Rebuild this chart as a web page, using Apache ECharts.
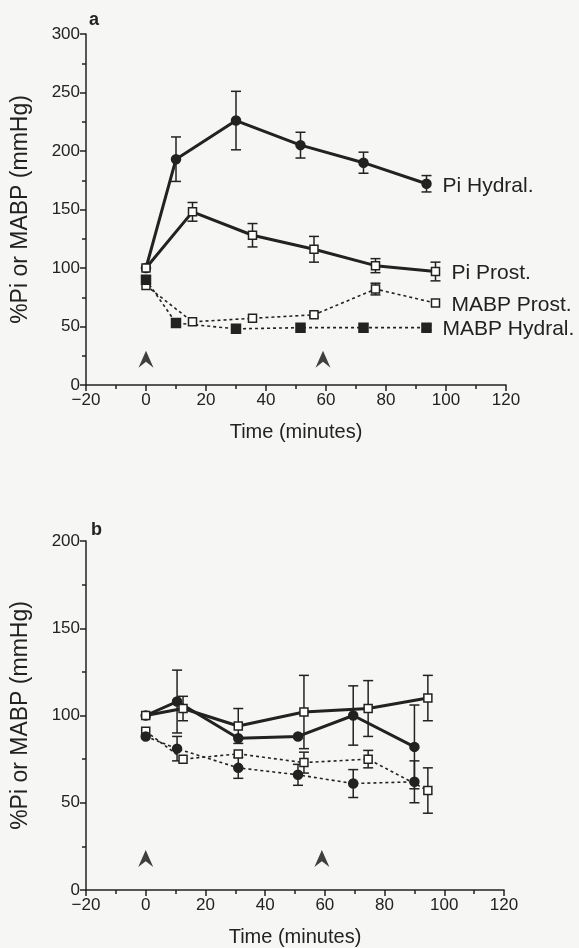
<!DOCTYPE html>
<html>
<head>
<meta charset="utf-8">
<script src="https://cdn.jsdelivr.net/npm/echarts@6/dist/echarts.min.js"></script>
<style>
  html, body { margin: 0; padding: 0; background: #f6f6f4; }
  #main { width: 579px; height: 948px; }
</style>
</head>
<body>
<div id="main"></div>
<script>
// panel a (minutes after injection)
var timeHydA = [0, 10, 30, 51.5, 72.5, 93.5];
var piHydA = [100, 193, 226, 205, 190, 172];
var piHydErrA = [0, 19, 25, 11, 9, 7];
var mabpHydA = [90, 53, 48, 49, 49, 49];
var mabpHydErrA = [0, 0, 0, 0, 0, 2];

var timeProA = [0, 15.5, 35.5, 56, 76.5, 96.5];
var piProA = [100, 148, 128, 116, 102, 97];
var piProErrA = [0, 8, 10, 11, 6, 8];
var mabpProA = [85, 54, 57, 60, 82, 70];
var mabpProErrA = [0, 0, 0, 2, 5, 0];

// panel b
var timeHydB = [0, 10.5, 31, 51, 69.5, 90];
var piHydB = [100, 108, 87, 88, 100, 82];
var piHydErrB = [0, 18, 0, 0, 17, 24];
var mabpHydB = [88, 81, 70, 66, 61, 62];
var mabpHydErrB = [0, 7, 6, 6, 8, 12];

var timeProB = [0, 12.5, 31, 53, 74.5, 94.5];
var piProB = [100, 104, 94, 102, 104, 110];
var piProErrB = [0, 7, 10, 21, 16, 13];
var mabpProB = [91, 75, 78, 73, 75, 57];
var mabpProErrB = [0, 0, 0, 6, 5, 13];

// injection markers
var arrowTimes = [0, 59];
var arrowLevelA = 22;
var arrowLevelB = 18;

var xMinorTicks = [-10, 10, 30, 50, 70, 90, 110];

var ink = '#222222';
var font = 'Liberation Sans';
var chevron = 'path://M0,20 L9,0 L18,20 L9,13 Z';

function pairs(t, v) {
    var out = [];
    for (var i = 0; i < t.length; i++) out.push([t[i], v[i]]);
    return out;
}
function triples(t, v, e) {
    var out = [];
    for (var i = 0; i < t.length; i++) {
        if (e[i] > 0) out.push([t[i], v[i], e[i]]);
    }
    return out;
}

function errBar(params, api) {
    var x = api.value(0), y = api.value(1), e = api.value(2);
    var top = api.coord([x, y + e]);
    var bot = api.coord([x, y - e]);
    var w = 5;
    var st = { stroke: ink, lineWidth: 1.5 };
    return {
        type: 'group',
        children: [
            { type: 'line', shape: { x1: top[0], y1: top[1], x2: bot[0], y2: bot[1] }, style: st },
            { type: 'line', shape: { x1: top[0] - w, y1: top[1], x2: top[0] + w, y2: top[1] }, style: st },
            { type: 'line', shape: { x1: bot[0] - w, y1: bot[1], x2: bot[0] + w, y2: bot[1] }, style: st }
        ]
    };
}

function mainX(grid) {
    return {
        type: 'value', gridIndex: grid, min: -20, max: 120, interval: 20,
        axisLine: { show: true, onZero: false, lineStyle: { color: ink, width: 1.5 } },
        axisTick: { show: true, length: 6, lineStyle: { color: ink, width: 1.5 } },
        axisLabel: {
            color: ink, fontSize: 17, fontFamily: font, margin: 7,
            formatter: function (v) { return v < 0 ? '\u2212' + (-v) : '' + v; }
        },
        splitLine: { show: false },
        name: 'Time (minutes)',
        nameLocation: 'middle', nameGap: 37,
        nameTextStyle: { color: ink, fontSize: 20, fontFamily: font }
    };
}
function minorX(grid) {
    return {
        type: 'value', gridIndex: grid, min: -20, max: 120,
        axisLine: { show: false },
        axisTick: { show: true, inside: true, length: 4, customValues: xMinorTicks, lineStyle: { color: ink, width: 1.5 } },
        axisLabel: { show: false },
        splitLine: { show: false }
    };
}
function mainY(grid, max) {
    return {
        type: 'value', gridIndex: grid, min: 0, max: max, interval: 50,
        axisLine: { show: true, onZero: false, lineStyle: { color: ink, width: 1.5 } },
        axisTick: { show: true, length: 6, lineStyle: { color: ink, width: 1.5 } },
        minorTick: { show: true, splitNumber: 2, length: 4, lineStyle: { color: ink, width: 1.5 } },
        axisLabel: { color: ink, fontSize: 17, fontFamily: font, margin: 6 },
        splitLine: { show: false },
        name: '%Pi or MABP (mmHg)',
        nameLocation: 'middle', nameGap: 54,
        nameTextStyle: { color: ink, fontSize: 23, fontFamily: font }
    };
}

function lineSeries(grid, data, solid, symbol, open, label) {
    var s = {
        type: 'line', xAxisIndex: grid * 2, yAxisIndex: grid,
        data: data, symbol: symbol, symbolSize: open ? 8 : 9,
        itemStyle: { color: open ? '#ffffff' : ink, borderColor: ink, borderWidth: 1.5 },
        lineStyle: solid ? { color: ink, width: 3 } : { color: ink, width: 1.6, type: [3, 3] },
        z: 3, animation: false
    };
    if (label) {
        s.endLabel = {
            show: true, formatter: label, color: ink, fontSize: 21,
            fontFamily: font, offset: [8, 2]
        };
    }
    return s;
}
function errSeries(grid, data) {
    return {
        type: 'custom', xAxisIndex: grid * 2, yAxisIndex: grid,
        renderItem: errBar, data: data, z: 2, animation: false
    };
}
function arrowSeries(grid, level) {
    return {
        type: 'scatter', xAxisIndex: grid * 2, yAxisIndex: grid,
        data: arrowTimes.map(function (t) { return [t, level]; }),
        symbol: chevron, symbolSize: [15, 17],
        itemStyle: { color: '#111' }, animation: false
    };
}

var chart = echarts.init(document.getElementById('main'));
chart.setOption({
    backgroundColor: '#f6f6f4',
    animation: false,
    title: [
        { text: 'a', left: 84, top: 6, textStyle: { fontSize: 18, fontWeight: 'bold', color: ink, fontFamily: font } },
        { text: 'b', left: 86, top: 516, textStyle: { fontSize: 18, fontWeight: 'bold', color: ink, fontFamily: font } }
    ],
    grid: [
        { left: 86, top: 34, width: 420, height: 351 },
        { left: 86, top: 541, width: 418, height: 353 }
    ],
    xAxis: [mainX(0), minorX(0), mainX(1), minorX(1)],
    yAxis: [mainY(0, 300), mainY(1, 200)],
    series: [
        lineSeries(0, pairs(timeHydA, piHydA), true, 'circle', false, 'Pi Hydral.'),
        lineSeries(0, pairs(timeProA, piProA), true, 'rect', true, 'Pi Prost.'),
        lineSeries(0, pairs(timeProA, mabpProA), false, 'rect', true, 'MABP Prost.'),
        lineSeries(0, pairs(timeHydA, mabpHydA), false, 'rect', false, 'MABP Hydral.'),
        errSeries(0, triples(timeHydA, piHydA, piHydErrA)),
        errSeries(0, triples(timeProA, piProA, piProErrA)),
        errSeries(0, triples(timeProA, mabpProA, mabpProErrA)),
        errSeries(0, triples(timeHydA, mabpHydA, mabpHydErrA)),
        arrowSeries(0, arrowLevelA),

        lineSeries(1, pairs(timeHydB, piHydB), true, 'circle', false),
        lineSeries(1, pairs(timeProB, piProB), true, 'rect', true),
        lineSeries(1, pairs(timeProB, mabpProB), false, 'rect', true),
        lineSeries(1, pairs(timeHydB, mabpHydB), false, 'circle', false),
        errSeries(1, triples(timeHydB, piHydB, piHydErrB)),
        errSeries(1, triples(timeProB, piProB, piProErrB)),
        errSeries(1, triples(timeProB, mabpProB, mabpProErrB)),
        errSeries(1, triples(timeHydB, mabpHydB, mabpHydErrB)),
        arrowSeries(1, arrowLevelB)
    ]
});
</script>
</body>
</html>
